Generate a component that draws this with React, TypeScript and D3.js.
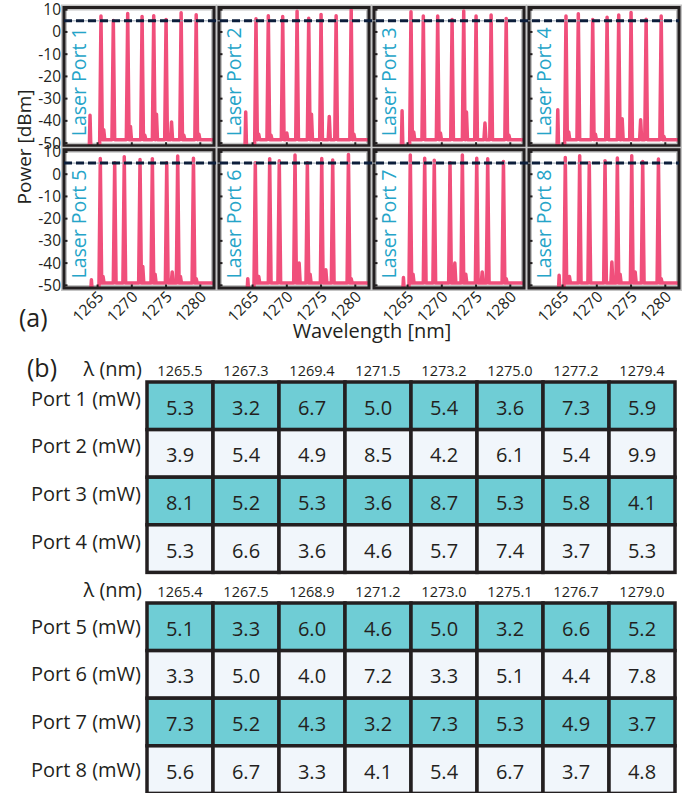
import React from 'react';
import * as d3 from 'd3';

const FONT = '"Open Sans", sans-serif';
const INK = '#231f20';

// spectra (a)
const portNames = ['1', '2', '3', '4', '5', '6', '7', '8'];
const lambdaTop = [1265.5, 1267.3, 1269.4, 1271.5, 1273.2, 1275.0, 1277.2, 1279.4];
const lambdaBottom = [1265.4, 1267.5, 1268.9, 1271.2, 1273.0, 1275.1, 1276.7, 1279.0];
const peakDbm = [
  [7.2, 5.1, 8.3, 7.0, 7.3, 5.6, 8.6, 7.7],
  [5.9, 7.3, 6.9, 9.3, 6.2, 7.9, 7.3, 10.0],
  [9.1, 7.2, 7.2, 5.6, 9.4, 7.2, 7.6, 6.1],
  [7.2, 8.2, 5.6, 6.6, 7.6, 8.7, 5.7, 7.2],
  [7.1, 5.2, 7.8, 6.6, 7.0, 5.1, 8.2, 7.2],
  [5.2, 7.0, 6.0, 8.6, 5.2, 7.1, 6.4, 8.9],
  [8.6, 7.2, 6.3, 5.1, 8.6, 7.2, 6.9, 5.7],
  [7.5, 8.3, 5.2, 6.1, 7.3, 8.3, 5.7, 6.8],
];
const startPeak = [
  [1263.9, -37.5], [1264.0, -36], [1264.2, -35.5], [1264.3, -35],
  [1264.1, -47.5], [1264.3, -47], [1264.4, -46.5], [1264.5, -45.5],
];
const sidePeaks = [
  [[1265.9, -44], [1269.8, -42.5], [1271.9, -46.5], [1273.6, -37], [1275.8, -40.5], [1277.6, -46.5], [1279.8, -46]],
  [[1265.9, -46], [1267.7, -46.5], [1270.0, -45.5], [1273.6, -37], [1276.2, -38], [1279.8, -46]],
  [[1265.9, -45], [1269.8, -45.5], [1273.6, -36], [1276.3, -41], [1279.8, -46.5]],
  [[1265.9, -45], [1269.8, -46], [1273.7, -39], [1276.4, -39.5], [1279.8, -47]],
  [[1265.8, -46], [1271.6, -41.5], [1273.4, -45], [1275.9, -44], [1277.1, -46], [1279.4, -47]],
  [[1265.9, -46], [1271.8, -40], [1273.4, -45], [1275.7, -43], [1279.4, -47]],
  [[1265.8, -45], [1271.9, -40], [1273.5, -45], [1275.9, -44], [1279.4, -47]],
  [[1266.0, -46], [1272.2, -39.5], [1273.4, -45], [1275.6, -44], [1279.4, -47]],
];
const floorDbm = [-48.5, -48.5, -48.5, -48.5, -49, -49, -49, -49];
const yTicks = [10, 0, -10, -20, -30, -40, -50];
const xTicks = [1265, 1270, 1275, 1280];
const thresholdDbm = 5;

// table (b)
const powerMw = [
  [5.3, 3.2, 6.7, 5.0, 5.4, 3.6, 7.3, 5.9],
  [3.9, 5.4, 4.9, 8.5, 4.2, 6.1, 5.4, 9.9],
  [8.1, 5.2, 5.3, 3.6, 8.7, 5.3, 5.8, 4.1],
  [5.3, 6.6, 3.6, 4.6, 5.7, 7.4, 3.7, 5.3],
  [5.1, 3.3, 6.0, 4.6, 5.0, 3.2, 6.6, 5.2],
  [3.3, 5.0, 4.0, 7.2, 3.3, 5.1, 4.4, 7.8],
  [7.3, 5.2, 4.3, 3.2, 7.3, 5.3, 4.9, 3.7],
  [5.6, 6.7, 3.3, 4.1, 5.4, 6.7, 3.7, 4.8],
];

const W = 694;
const H = 793;

const colBand = d3.scaleBand<number>().domain([0, 1, 2, 3]).range([64, 679]).paddingInner(5 / 155);
const rowBand = d3.scaleBand<number>().domain([0, 1]).range([7.5, 288]).paddingInner(4 / 142.5);

const Panel = ({ i }: { i: number }) => {
  const col = i % 4;
  const row = Math.floor(i / 4);
  const x0 = colBand(col)!;
  const y0 = rowBand(row)!;
  const pw = colBand.bandwidth();
  const ph = rowBand.bandwidth();
  const x = d3.scaleLinear().domain([1260.1, 1282]).range([x0, x0 + pw]);
  const y = d3.scaleLinear().domain([-51.2, 11]).range([y0 + ph, y0]);
  const lambdas = row === 0 ? lambdaTop : lambdaBottom;
  const floor = floorDbm[i];

  const feats = [
    ...lambdas.map((l, k) => [l, peakDbm[i][k], 0.2]),
    ...sidePeaks[i].map((d) => [d[0], d[1], 0.15]),
  ].sort((a, b) => a[0] - b[0]);
  const [s, hs] = startPeak[i];
  const pts: [number, number][] = [[s - 0.12, -54], [s, hs], [s + 0.12, -52.5]];
  feats.forEach((f, k) => {
    pts.push([f[0] - f[2], k === 0 ? -51.8 : floor], [f[0], f[1]], [f[0] + f[2], floor]);
  });
  pts.push([1283, floor]);
  const line = d3.line<[number, number]>().x((d) => x(d[0])).y((d) => y(d[1]));
  const clipId = `clip-${i}`;

  return (
    <g>
      <defs>
        <clipPath id={clipId}>
          <rect x={x0} y={y0} width={pw} height={ph} />
        </clipPath>
      </defs>
      <rect x={x0} y={y0} width={pw} height={ph} fill="#fff" stroke="#c4c4c4" strokeWidth={6} />
      <path d={line(pts)!} fill="none" stroke="#f04f7b" strokeWidth={3.5} strokeLinejoin="round" clipPath={`url(#${clipId})`} />
      {yTicks.map((t) => (
        <line key={`yt${t}`} x1={x0} x2={x0 + 3.5} y1={y(t)} y2={y(t)} stroke={INK} strokeWidth={2} />
      ))}
      {xTicks.map((t) => (
        <line key={`xt${t}`} x1={x(t)} x2={x(t)} y1={y0 + ph} y2={y0 + ph - 3.5} stroke={INK} strokeWidth={2} />
      ))}
      <rect x={x0} y={y0} width={pw} height={ph} fill="none" stroke={INK} strokeWidth={3} />
      <text
        transform={`translate(${x0 + 22},${y0 + ph - 9.5}) rotate(-90)`}
        fontFamily={FONT}
        fontSize={19.5}
        fill="#25a4c8"
      >
        {`Laser Port ${portNames[i]}`}
      </text>
      {col === 0 &&
        yTicks.map((t) => (
          <text key={`yl${t}`} x={x0 - 3} y={y(t)} dy="0.35em" textAnchor="end" fontFamily={FONT} fontSize={15.5} fill={INK}>
            {t}
          </text>
        ))}
      {row === 1 &&
        xTicks.map((t) => (
          <text
            key={`xl${t}`}
            transform={`translate(${x(t) + 3},${y0 + ph + 6}) rotate(-45)`}
            dy="0.35em"
            textAnchor="end"
            fontFamily={FONT}
            fontSize={15.5}
            fill={INK}
          >
            {t}
          </text>
        ))}
    </g>
  );
};

const colX = d3.scaleBand<number>().domain(d3.range(8)).range([147, 675]);

const Table = ({ top, rows, lambdas, labelShift }: { top: number; rows: number[]; lambdas: number[]; labelShift: number }) => {
  const rowY = d3.scaleBand<number>().domain(rows).range([top, top + 47.6 * rows.length]);
  return (
    <g>
      <text x={142} y={top - 6} textAnchor="end" fontFamily={FONT} fontSize={20} fill={INK}>
        λ (nm)
      </text>
      {lambdas.map((l, c) => (
        <text key={`h${c}`} x={colX(c)! + colX.bandwidth() / 2} y={top - 6} textAnchor="middle" fontFamily={FONT} fontSize={14.5} fill={INK}>
          {l.toFixed(1)}
        </text>
      ))}
      {rows.map((r) => (
        <g key={`r${r}`}>
          <text
            x={141}
            y={rowY(r)! + rowY.bandwidth() / 2 + labelShift}
            dy="0.35em"
            textAnchor="end"
            fontFamily={FONT}
            fontSize={20}
            fill={INK}
          >
            {`Port ${portNames[r]} (mW)`}
          </text>
          {powerMw[r].map((v, c) => (
            <g key={`c${c}`}>
              <rect
                x={colX(c)}
                y={rowY(r)}
                width={colX.bandwidth()}
                height={rowY.bandwidth()}
                fill={r % 2 === 0 ? '#6fcdd5' : '#f1f6fb'}
                stroke={INK}
                strokeWidth={3.5}
              />
              <text
                x={colX(c)! + colX.bandwidth() / 2}
                y={rowY(r)! + rowY.bandwidth() / 2 + 2}
                dy="0.35em"
                textAnchor="middle"
                fontFamily={FONT}
                fontSize={20}
                fill={INK}
              >
                {v.toFixed(1)}
              </text>
            </g>
          ))}
        </g>
      ))}
    </g>
  );
};

export default function App() {
  const rowYs = [0, 1].map((r) =>
    d3.scaleLinear().domain([-51.2, 11]).range([rowBand(r)! + rowBand.bandwidth(), rowBand(r)!])
  );
  return (
    <svg width={W} height={H} style={{ position: 'absolute', left: 0, top: 0, background: '#fff' }}>
      {d3.range(8).map((i) => (
        <Panel key={i} i={i} />
      ))}
      {rowYs.map((ys, r) => (
        <g key={`th${r}`}>
          <line x1={64} x2={679} y1={ys(thresholdDbm)} y2={ys(thresholdDbm)} stroke="#9aa6b4" strokeWidth={1} />
          <line x1={64} x2={679} y1={ys(thresholdDbm)} y2={ys(thresholdDbm)} stroke="#0c1e3b" strokeWidth={3} strokeDasharray="8 4" />
        </g>
      ))}
      <text transform="translate(31,147) rotate(-90)" textAnchor="middle" fontFamily={FONT} fontSize={19} fill={INK}>
        Power [dBm]
      </text>
      <text x={372} y={338} textAnchor="middle" fontFamily={FONT} fontSize={20} fill={INK}>
        Wavelength [nm]
      </text>
      <text x={19} y={327} fontFamily={FONT} fontSize={25} fill={INK}>
        (a)
      </text>
      <text x={27} y={377} fontFamily={FONT} fontSize={25} fill={INK}>
        (b)
      </text>
      <Table top={382} rows={[0, 1, 2, 3]} lambdas={lambdaTop} labelShift={-7} />
      <Table top={603} rows={[4, 5, 6, 7]} lambdas={lambdaBottom} labelShift={0} />
    </svg>
  );
}
